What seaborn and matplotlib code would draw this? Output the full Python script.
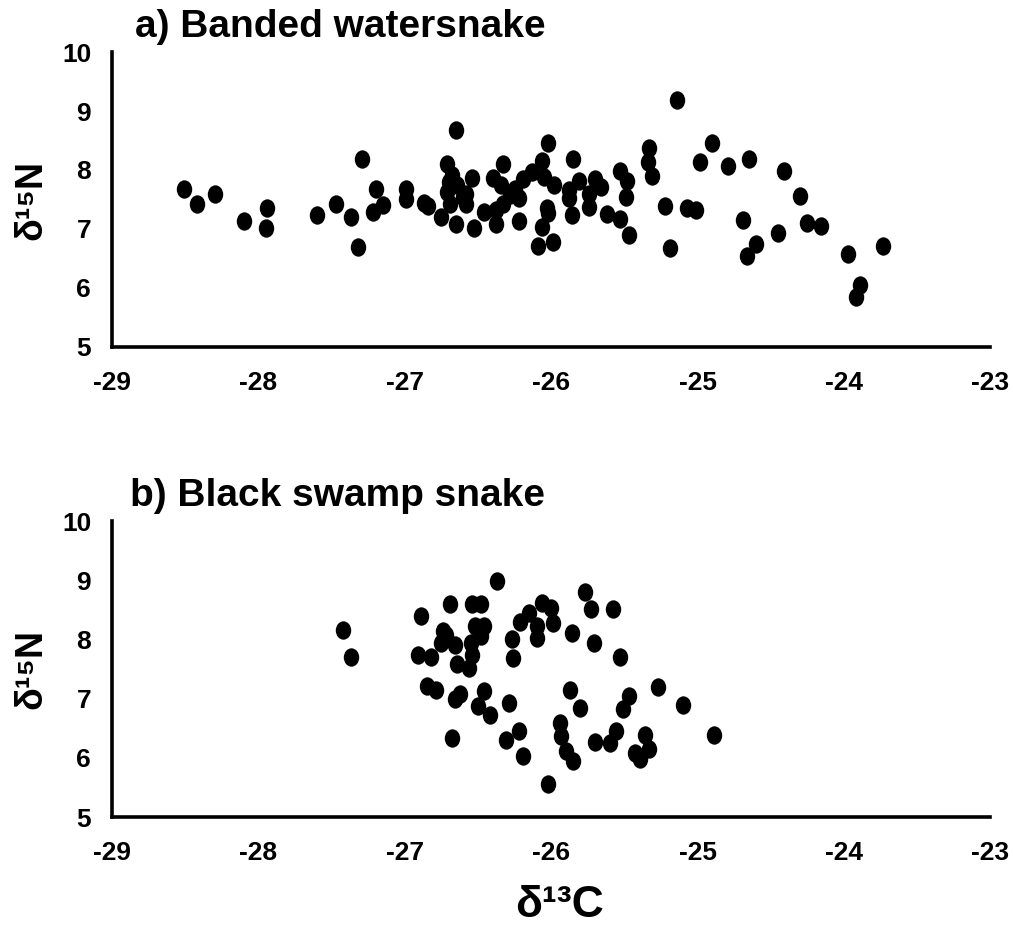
import numpy as np
import pandas as pd
import matplotlib
matplotlib.use("Agg")
import matplotlib.pyplot as plt
from matplotlib.path import Path
from matplotlib.transforms import Affine2D
import seaborn as sns

# ---- data: (delta13C, delta15N) ----
banded_c = [-28.51, -28.42, -28.30, -28.10, -27.94, -27.95, -27.60, -27.47, -27.37, -27.32,
            -27.29, -27.20, -27.15, -27.22, -26.99, -26.99, -26.87, -26.84, -26.65, -26.71,
            -26.68, -26.70, -26.71, -26.64, -26.69, -26.75, -26.65, -26.58, -26.58, -26.54,
            -26.53, -26.40, -26.33, -26.34, -26.46, -26.38, -26.38, -26.33, -26.25, -26.22,
            -26.19, -26.22, -26.13, -26.06, -26.02, -26.05, -25.98, -26.03, -26.02, -26.06,
            -25.99, -26.09, -25.85, -25.81, -25.88, -25.88, -25.86, -25.70, -25.66, -25.74,
            -25.74, -25.62, -25.53, -25.48, -25.49, -25.53, -25.47, -25.33, -25.34, -25.31,
            -25.14, -25.22, -25.19, -24.90, -24.98, -24.79, -24.65, -24.41, -24.30, -25.07,
            -25.01, -24.69, -24.60, -24.66, -24.45, -24.25, -24.16, -23.97, -23.73, -23.89,
            -23.92, -26.60, -26.28]
banded_n = [7.67, 7.43, 7.60, 7.13, 7.36, 7.01, 7.24, 7.43, 7.20, 6.70,
            8.18, 7.67, 7.40, 7.28, 7.68, 7.51, 7.44, 7.39, 8.68, 8.10,
            7.91, 7.80, 7.63, 7.74, 7.42, 7.21, 7.09, 7.43, 7.60, 7.87,
            7.01, 7.87, 8.10, 7.74, 7.29, 7.09, 7.32, 7.43, 7.68, 7.52,
            7.85, 7.14, 7.96, 8.16, 8.45, 7.88, 7.74, 7.35, 7.27, 7.04,
            6.78, 6.71, 8.19, 7.82, 7.66, 7.52, 7.24, 7.85, 7.71, 7.60,
            7.38, 7.25, 7.99, 7.82, 7.55, 7.17, 6.90, 8.38, 8.14, 7.90,
            9.19, 7.39, 6.67, 8.45, 8.13, 8.06, 8.18, 7.98, 7.56, 7.36,
            7.32, 7.16, 6.74, 6.54, 6.94, 7.10, 7.05, 6.58, 6.71, 6.05,
            5.84, 7.55, 7.58]

swamp_c = [-27.42, -27.37, -26.37, -26.89, -26.69, -26.54, -26.48, -26.74, -26.72, -26.75,
           -26.66, -26.52, -26.46, -26.48, -26.55, -26.54, -26.91, -26.82, -26.64, -26.56,
           -26.85, -26.79, -26.66, -26.62, -26.46, -26.50, -26.42, -26.29, -26.68, -26.22,
           -26.31, -26.19, -26.02, -26.06, -26.00, -26.15, -26.21, -25.99, -26.10, -26.27,
           -26.10, -26.26, -25.86, -25.87, -25.77, -25.73, -25.58, -25.71, -25.53, -25.80,
           -25.47, -25.51, -25.27, -25.10, -24.89, -25.56, -25.36, -25.33, -25.43, -25.39,
           -25.60, -25.70, -25.94, -25.93, -25.90, -25.85]
swamp_n = [8.16, 7.71, 8.99, 8.40, 8.60, 8.60, 8.60, 8.15, 8.08, 7.94,
           7.90, 8.22, 8.22, 8.05, 7.94, 7.74, 7.74, 7.71, 7.59, 7.52,
           7.21, 7.15, 7.00, 7.08, 7.13, 6.87, 6.72, 6.92, 6.34, 6.45,
           6.30, 6.03, 5.56, 8.61, 8.53, 8.45, 8.30, 8.28, 8.22, 8.00,
           8.03, 7.69, 8.11, 7.15, 8.80, 8.52, 8.52, 7.94, 7.70, 6.85,
           7.04, 6.82, 7.20, 6.89, 6.38, 6.46, 6.39, 6.15, 6.08, 5.98,
           6.25, 6.26, 6.59, 6.37, 6.12, 5.95]

titles = ["a) Banded watersnake", "b) Black swamp snake"]
x_ticks = [-29, -28, -27, -26, -25, -24, -23]
y_ticks = [5, 6, 7, 8, 9, 10]

sns.set_style("white")
plt.rcParams['font.family'] = ['Liberation Sans', 'DejaVu Sans']
plt.rcParams['font.weight'] = 'bold'
plt.rcParams['text.color'] = 'black'
plt.rcParams['xtick.color'] = 'black'
plt.rcParams['ytick.color'] = 'black'
plt.rcParams['axes.labelcolor'] = 'black'

fig = plt.figure(figsize=(10.13, 9.39), dpi=100)

# slightly tall ellipse marker
ell = Path.unit_circle().transformed(Affine2D().scale(0.84, 1.0))

panels = [
    (pd.DataFrame({"d13C": banded_c, "d15N": banded_n}), [0.1106, 0.6305, 0.867, 0.3141], 0.026),
    (pd.DataFrame({"d13C": swamp_c, "d15N": swamp_n}), [0.1106, 0.1299, 0.867, 0.3152], 0.020),
]

for i, (df, rect, tx) in enumerate(panels):
    ax = fig.add_axes(rect)
    sns.scatterplot(data=df, x="d13C", y="d15N", ax=ax, color="black",
                    marker=ell, s=175, linewidth=0, legend=False)
    ax.set_xlim(-29, -23)
    ax.set_ylim(5, 10)
    ax.set_xticks(x_ticks)
    ax.set_yticks(y_ticks)
    ax.set_xticklabels([str(t) for t in x_ticks])
    ax.set_yticklabels([str(t) for t in y_ticks])
    for lab in ax.get_xticklabels() + ax.get_yticklabels():
        lab.set_fontweight('bold')
        lab.set_fontsize(19)
        lab.set_color('black')
    ax.tick_params(axis='both', direction='in', length=7, width=2.2, color='black')
    ax.tick_params(axis='x', pad=17)
    ax.tick_params(axis='y', pad=15)
    for s in ['top', 'right']:
        ax.spines[s].set_visible(False)
    for s in ['left', 'bottom']:
        ax.spines[s].set_linewidth(2.6)
        ax.spines[s].set_color('black')
    ax.set_xlabel("")
    ax.set_ylabel("")
    ax.text(tx, 1.025, titles[i], transform=ax.transAxes, ha='left', va='bottom',
            fontsize=28, fontweight='bold', color='black')

fig.text(0.031, 0.787, "δ¹⁵N", rotation=90, ha='center', va='center',
         fontsize=27, fontweight='bold', color='black')
fig.text(0.031, 0.2875, "δ¹⁵N", rotation=90, ha='center', va='center',
         fontsize=27, fontweight='bold', color='black')
fig.text(0.552, 0.036, "δ¹³C", ha='center', va='center', fontsize=32,
         fontweight='bold', color='black')

fig.savefig("out.png", dpi=100)
